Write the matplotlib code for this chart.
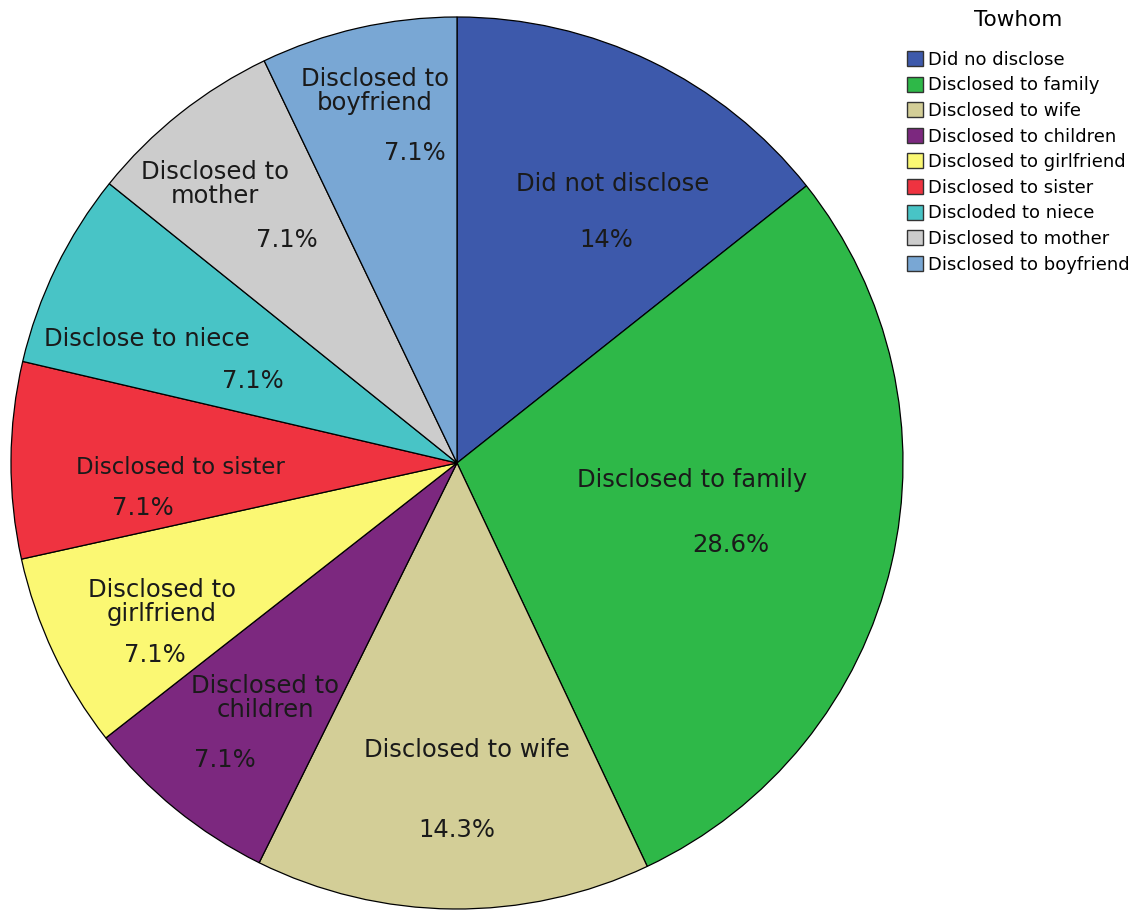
import matplotlib.pyplot as plt
import numpy as np

# ---- data ----
categories = [
    "Did not disclose",
    "Disclosed to family",
    "Disclosed to wife",
    "Disclosed to children",
    "Disclosed to girlfriend",
    "Disclosed to sister",
    "Disclode to niece",
    "Disclosed to mother",
    "Disclosed to boyfriend",
]
legend_labels = [
    "Did no disclose",
    "Disclosed to family",
    "Disclosed to wife",
    "Disclosed to children",
    "Disclosed to girlfriend",
    "Disclosed to sister",
    "Discloded to niece",
    "Disclosed to mother",
    "Disclosed to boyfriend",
]
slice_names = [
    "Did not disclose",
    "Disclosed to family",
    "Disclosed to wife",
    "Disclosed to\nchildren",
    "Disclosed to\ngirlfriend",
    "Disclosed to sister",
    "Disclose to niece",
    "Disclosed to\nmother",
    "Disclosed to\nboyfriend",
]
percents = [14.3, 28.6, 14.3, 7.1, 7.1, 7.1, 7.1, 7.1, 7.1]
pct_labels = ["14%", "28.6%", "14.3%", "7.1%", "7.1%", "7.1%", "7.1%", "7.1%", "7.1%"]

colors = ["#3d59ab", "#2eb848", "#d3ce97", "#7c287f", "#fbf873",
          "#ef3340", "#48c4c6", "#cccccc", "#79a7d4"]

# label placement inside each slice (offsets from centre, in radius units)
R_PX = 446.0
name_pos = [(156, 279), (235, -17), (10, -287), (-192, -235), (-295, -139),
            (-277, -5), (-310, 124), (-242, 279), (-82, 372)]
pct_pos = [(149, 223), (274, -82), (0, -367), (-232, -297), (-302, -192),
           (-314, -45), (-204, 82), (-170, 223), (-42, 310)]
name_size = [17.5, 17.5, 17.5, 17.5, 17.5, 16.5, 17.5, 17.5, 17.5]

W, H = 1145, 915
fig = plt.figure(figsize=(W / 100, H / 100), dpi=100)
cx, cy = 457, 463
ax = fig.add_axes([(cx - R_PX) / W, (H - cy - R_PX) / H, 2 * R_PX / W, 2 * R_PX / H])

wedges, _ = ax.pie(
    percents,
    colors=colors,
    startangle=90,
    counterclock=False,
    radius=1.0,
    wedgeprops=dict(edgecolor="black", linewidth=0.9),
)
ax.set_xlim(-1, 1)
ax.set_ylim(-1, 1)
ax.set_aspect("equal")
ax.axis("off")

for i in range(len(categories)):
    nx, ny = name_pos[i]
    px, py = pct_pos[i]
    ax.text(nx / R_PX, ny / R_PX, slice_names[i], ha="center", va="center",
            fontsize=name_size[i], color="#1a1a1a", linespacing=0.95)
    ax.text(px / R_PX, py / R_PX, pct_labels[i], ha="center", va="center",
            fontsize=17.5, color="#1a1a1a")

leg = fig.legend(
    wedges, legend_labels,
    loc="upper left",
    bbox_to_anchor=(907 / W, 1 - 10 / H),
    title="Towhom",
    fontsize=13,
    title_fontsize=15.5,
    frameon=False,
    handlelength=0.9,
    handleheight=0.9,
    handletextpad=0.25,
    labelspacing=0.42,
    borderaxespad=0,
    borderpad=0,
)
leg._legend_box.sep = 15
for h in leg.legend_handles:
    h.set_linewidth(1.0)
    h.set_edgecolor("#333333")

fig.savefig("out.png", dpi=100)
